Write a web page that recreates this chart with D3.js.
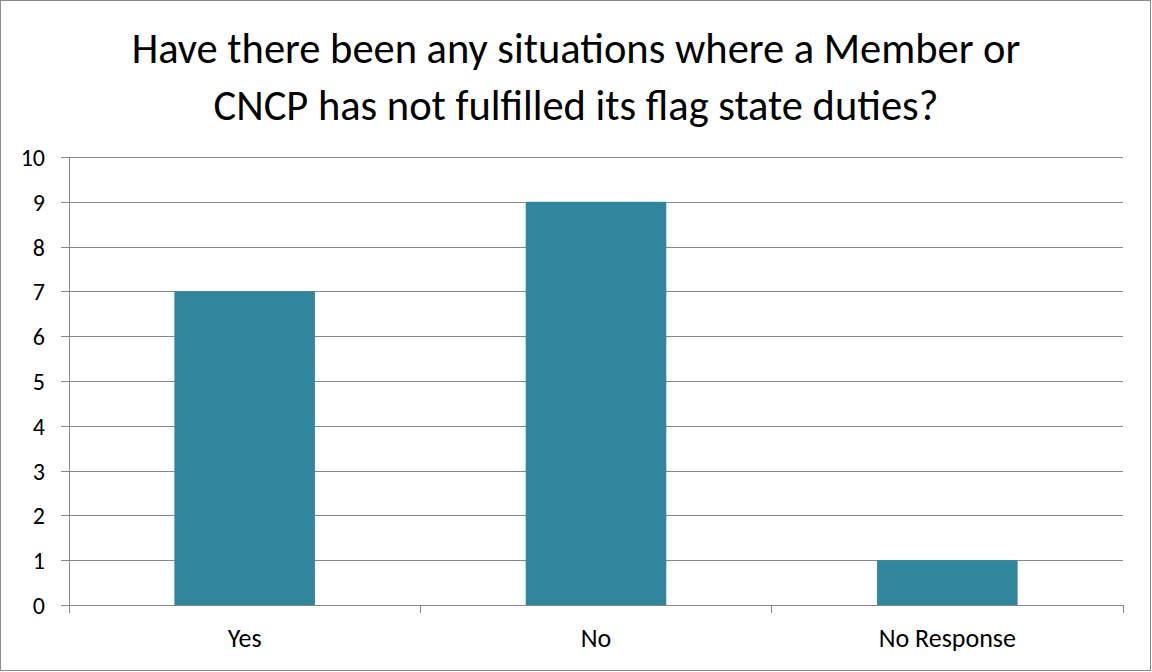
<!DOCTYPE html>
<html>
<head>
<meta charset="utf-8">
<script src="https://cdn.jsdelivr.net/npm/d3@7"></script>
<style>
  html, body { margin: 0; padding: 0; background: #fff; }
  svg { display: block; }
  text { font-family: Carlito, Calibri, Lato, "Open Sans", sans-serif; fill: #000; }
</style>
</head>
<body>
<svg id="chart" width="1152" height="672"></svg>
<script>
// Survey responses
const categories = ["Yes", "No", "No Response"];
const counts = [7, 9, 1];
const yTicks = [0, 1, 2, 3, 4, 5, 6, 7, 8, 9, 10];
const titleLines = [
  "Have there been any situations where a Member or",
  "CNCP has not fulfilled its flag state duties?"
];

const W = 1152, H = 672;
const plot = { left: 69, right: 1123, top: 157, bottom: 605 };
const barColor = "#31859c";
const gridColor = "#868686";

const svg = d3.select("#chart");

// Outer chart frame
svg.append("rect")
  .attr("x", 0.5).attr("y", 0.5)
  .attr("width", W - 2).attr("height", H - 2)
  .attr("fill", "#fff").attr("stroke", "#8c8c8c").attr("stroke-width", 1);

// Title
svg.append("g").selectAll("text")
  .data(titleLines)
  .join("text")
  .attr("x", W / 2)
  .attr("y", (d, i) => 63 + i * 57)
  .attr("text-anchor", "middle")
  .attr("font-size", 42.5)
  .text(d => d);

const x = d3.scaleBand()
  .domain(categories)
  .range([plot.left, plot.right])
  .paddingInner(0.6)
  .paddingOuter(0.3);

const y = d3.scaleLinear()
  .domain([0, 10])
  .range([plot.bottom, plot.top]);

// Horizontal gridlines with left tick stubs
const yAxis = d3.axisLeft(y)
  .tickValues(yTicks)
  .tickSize(-(plot.right - plot.left))
  .tickSizeOuter(0)
  .tickPadding(24)
  .tickFormat(d3.format("d"));

const gy = svg.append("g")
  .attr("transform", `translate(${plot.left},0)`)
  .call(yAxis);
gy.select(".domain").remove();
gy.selectAll(".tick line")
  .attr("x1", -8)
  .attr("stroke", gridColor)
  .attr("stroke-width", 1)
  .attr("shape-rendering", "crispEdges");
gy.selectAll(".tick text")
  .attr("font-size", 24)
  .attr("font-family", "Carlito, Calibri, Lato, 'Open Sans', sans-serif")
  .attr("fill", "#000")
  .attr("dy", "0.35em");

// Vertical axis line
svg.append("line")
  .attr("x1", plot.left).attr("x2", plot.left)
  .attr("y1", plot.top).attr("y2", plot.bottom + 8)
  .attr("stroke", gridColor)
  .attr("shape-rendering", "crispEdges");

// Bars
svg.append("g").selectAll("rect")
  .data(categories.map((c, i) => ({ c, v: counts[i] })))
  .join("rect")
  .attr("x", d => x(d.c))
  .attr("y", d => y(d.v))
  .attr("width", x.bandwidth())
  .attr("height", d => y(0) - y(d.v))
  .attr("fill", barColor);

// Category axis with boundary ticks
const gx = svg.append("g")
  .attr("transform", `translate(0,${plot.bottom})`);
gx.append("line")
  .attr("x1", plot.left).attr("x2", plot.right)
  .attr("stroke", gridColor)
  .attr("shape-rendering", "crispEdges");
const bounds = d3.range(categories.length + 1).map(i => plot.left + i * (plot.right - plot.left) / categories.length);
gx.selectAll("line.b")
  .data(bounds)
  .join("line")
  .attr("class", "b")
  .attr("x1", d => d).attr("x2", d => d)
  .attr("y1", 0).attr("y2", 8)
  .attr("stroke", gridColor)
  .attr("shape-rendering", "crispEdges");
gx.selectAll("text")
  .data(categories)
  .join("text")
  .attr("x", d => x(d) + x.bandwidth() / 2)
  .attr("y", 42)
  .attr("text-anchor", "middle")
  .attr("font-size", 26)
  .text(d => d);
</script>
</body>
</html>
